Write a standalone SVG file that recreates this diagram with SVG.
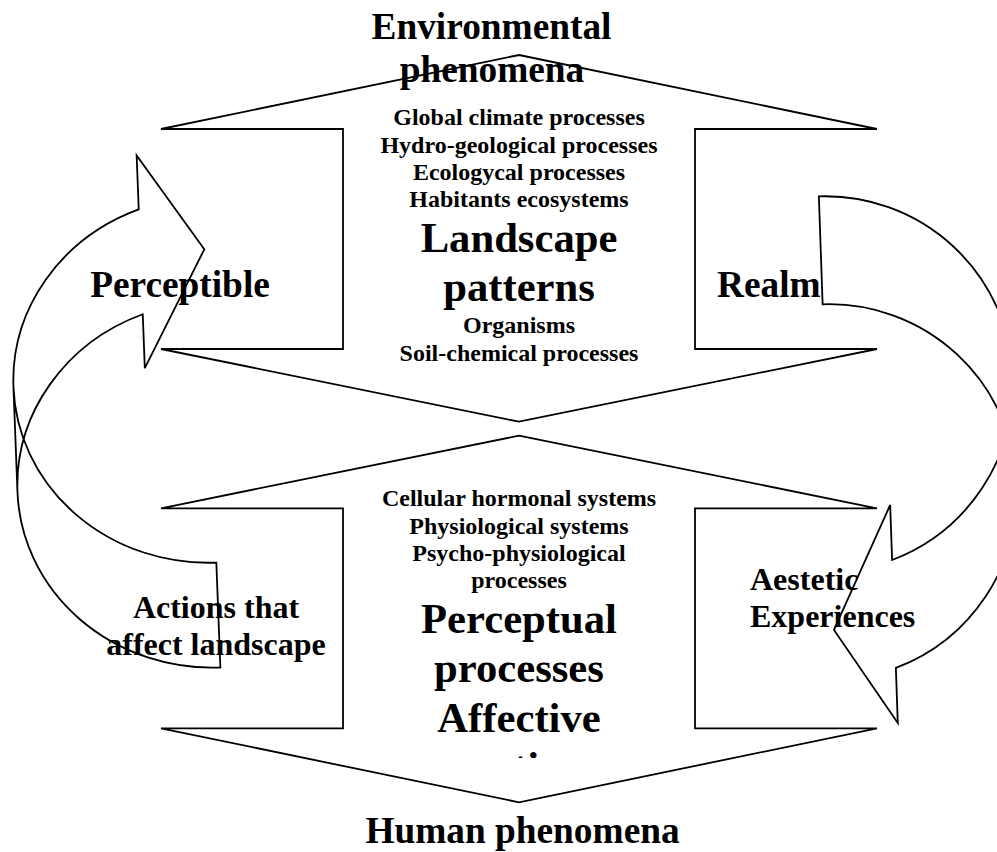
<svg xmlns="http://www.w3.org/2000/svg" width="997" height="852" viewBox="0 0 997 852">
  <style>
    .outline { fill: #ffffff; stroke: #000000; stroke-width: 1.8; stroke-linejoin: miter; }
    .txt { font-family: "Liberation Serif", "Times New Roman", serif; font-weight: bold; fill: #000000; }
    .c { text-anchor: middle; }
    .s24 { font-size: 24px; }
    .s32 { font-size: 32px; }
    .s37 { font-size: 37.33px; }
    .s43 { font-size: 42.67px; }
  </style>
  <defs>
    <!-- curved arrow: head at the origin pointing right, band bending out to the left -->
    <path id="curved-arrow-a" d="M -196 235.5 A 196 183 0 0 1 -64 62.53 L -64 116.53 L 0 0 L -64 -96.47 L -64 -42.47 A 196 183 0 0 0 -196 130.5 L -196 235.5 A 196 183 0 0 0 0 418.5 L 0 313.5 A 196 183 0 0 1 -196 130.5 Z"/>
    <path id="curved-arrow-b" d="M -188 245.9 A 188 188 0 0 1 -60.5 67.9 L -60.5 123 L 0 0 L -60.5 -95.2 L -60.5 -40.1 A 188 188 0 0 0 -188 137.9 L -188 245.9 A 188 188 0 0 0 0 433.9 L 0 325.9 A 188 188 0 0 1 -188 137.9 Z"/>
    <clipPath id="last-line-clip">
      <rect x="300" y="700" width="440" height="58"/>
    </clipPath>
  </defs>

  <rect x="0" y="0" width="997" height="852" fill="#ffffff"/>

  <!-- upper up-down arrow: environmental phenomena -->
  <g id="environmental-phenomena">
    <path class="outline" d="M 519 55 L 877 129 L 695 129 L 695 349 L 877 349 L 519 421.7 L 161 349 L 343 349 L 343 129 L 161 129 Z"/>
    <text class="txt s37 c" x="491.5" y="39">Environmental</text>
    <text class="txt s37 c" x="492" y="82">phenomena</text>
    <text class="txt s24 c" x="519" y="125">Global climate processes</text>
    <text class="txt s24 c" x="519" y="152.6">Hydro-geological processes</text>
    <text class="txt s24 c" x="519" y="180.2">Ecologycal processes</text>
    <text class="txt s24 c" x="519" y="207">Habitants ecosystems</text>
    <text class="txt s43 c" x="519" y="252.3">Landscape</text>
    <text class="txt s43 c" x="519" y="300.5">patterns</text>
    <text class="txt s24 c" x="519" y="333.3">Organisms</text>
    <text class="txt s24 c" x="519" y="361">Soil-chemical processes</text>
  </g>

  <!-- lower up-down arrow: human phenomena -->
  <g id="human-phenomena">
    <path class="outline" d="M 519 435.7 L 877 508.3 L 695 508.3 L 695 728.3 L 877 728.3 L 519 802.3 L 161 728.3 L 343 728.3 L 343 508.3 L 161 508.3 Z"/>
    <text class="txt s24 c" x="519" y="506">Cellular hormonal systems</text>
    <text class="txt s24 c" x="519" y="533.5">Physiological systems</text>
    <text class="txt s24 c" x="519" y="561">Psycho-physiological</text>
    <text class="txt s24 c" x="519" y="588">processes</text>
    <text class="txt s43 c" x="519" y="633.3">Perceptual</text>
    <text class="txt s43 c" x="519" y="682">processes</text>
    <text class="txt s43 c" x="519" y="731.5">Affective</text>
    <text class="txt s43 c" x="519" y="780.5" clip-path="url(#last-line-clip)">emotions</text>
    <text class="txt s37 c" x="522.5" y="843">Human phenomena</text>
  </g>

  <!-- curved flow arrows between the two levels -->
  <g id="connectors">
    <use href="#curved-arrow-a" class="outline" transform="translate(204.3 249.3) rotate(-2.2)"/>
    <use href="#curved-arrow-b" class="outline" transform="translate(834 630) rotate(178)"/>
  </g>

  <!-- side labels -->
  <g id="label-perceptible">
    <text class="txt s37 c" x="180" y="297">Perceptible</text>
  </g>
  <g id="label-realm">
    <text class="txt s37" x="717" y="297">Realm</text>
  </g>
  <g id="label-actions">
    <text class="txt s32 c" x="216" y="618.3">Actions that</text>
    <text class="txt s32 c" x="216" y="655">affect landscape</text>
  </g>
  <g id="label-aesthetic">
    <text class="txt s32" x="750" y="590">Aestetic</text>
    <text class="txt s32" x="750" y="626.7">Experiences</text>
  </g>
</svg>
